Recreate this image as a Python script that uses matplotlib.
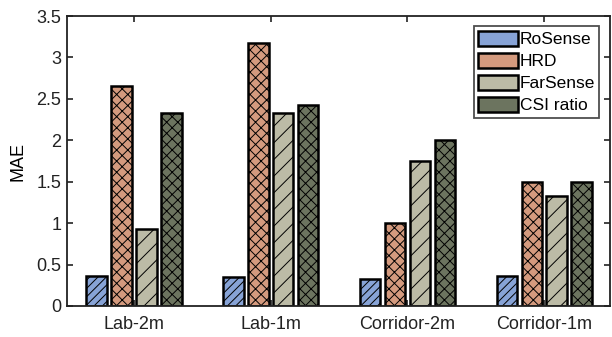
import matplotlib
matplotlib.use("Agg")
import matplotlib.pyplot as plt
import numpy as np
from matplotlib.patches import Patch

categories = ["Lab-2m", "Lab-1m", "Corridor-2m", "Corridor-1m"]
methods = ["RoSense", "HRD", "FarSense", "CSI ratio"]
rosense = [0.36, 0.35, 0.33, 0.36]
hrd = [2.65, 3.17, 1.00, 1.50]
farsense = [0.93, 2.33, 1.75, 1.33]
csi_ratio = [2.33, 2.42, 2.00, 1.50]
yticks = [0, 0.5, 1, 1.5, 2, 2.5, 3, 3.5]
ytick_labels = ["0", "0.5", "1", "1.5", "2", "2.5", "3", "3.5"]

series = [rosense, hrd, farsense, csi_ratio]
colors = ["#87a3d6", "#d49a7e", "#bcbba6", "#6c745f"]
hatches = ["////", "xxx", "//", "xxx"]

plt.rcParams['font.family'] = ['Liberation Sans', 'DejaVu Sans']
plt.rcParams['hatch.linewidth'] = 0.7
plt.rcParams['hatch.color'] = '#111111'

fig = plt.figure(figsize=(6.12, 3.37), dpi=100)
ax = fig.add_axes([0.1095, 0.092, 0.887, 0.8605])

x = np.arange(1, len(categories) + 1)
w = 0.15
step = 0.182
for i, (vals, c, h) in enumerate(zip(series, colors, hatches)):
    off = (i - 1.5) * step
    ax.bar(x + off, vals, width=w, color=c, edgecolor='black', linewidth=1.8,
           hatch=h, zorder=2)

ax.set_xlim(0.51, 4.48)
ax.set_ylim(0, 3.5)
ax.set_xticks(x)
ax.set_xticklabels(categories, fontsize=13)
ax.set_yticks(yticks)
ax.set_yticklabels(ytick_labels, fontsize=13)
ax.set_ylabel("MAE", fontsize=13, labelpad=7)
ax.tick_params(direction='in', top=True, right=True, length=4, width=1.2, colors='#222222')
ax.tick_params(axis='x', pad=7)
ax.tick_params(axis='y', pad=4)
for s in ax.spines.values():
    s.set_linewidth(1.3)
    s.set_color('#222222')

handles = [Patch(facecolor=c, edgecolor='black', linewidth=1.8) for c in colors]
leg = ax.legend(handles, methods, loc='upper right', fontsize=12.5, frameon=True,
                fancybox=False, edgecolor='#222222', borderpad=0.25, labelspacing=0.3,
                handlelength=2.3, handleheight=1.0, handletextpad=0.1,
                borderaxespad=0.6)
leg.get_frame().set_linewidth(1.3)

fig.savefig("out.png", dpi=100)
